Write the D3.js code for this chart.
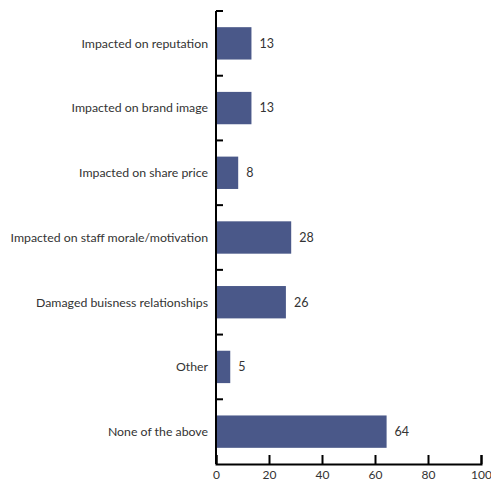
<!DOCTYPE html>
<html><head><meta charset="utf-8">
<script src="https://cdn.jsdelivr.net/npm/d3@7"></script>
<style>body{margin:0;background:#fff}svg{display:block}</style>
</head><body>
<script>
const categories = ["Impacted on reputation","Impacted on brand image","Impacted on share price","Impacted on staff morale/motivation","Damaged buisness relationships","Other","None of the above"];
const values = [13,13,8,28,26,5,64];
const xTicks = [0,20,40,60,80,100];

const W=491,H=482;
const m={top:11,left:216,right:10,bottom:18};
const svg=d3.select("body").append("svg").attr("width",W).attr("height",H);
const font="Lato, 'Open Sans', sans-serif";
const x=d3.scaleLinear().domain([0,100]).range([m.left,481]);
const y=d3.scaleBand().domain(categories).range([m.top,464]).paddingInner(0.5).paddingOuter(0.25);

// bars
svg.selectAll("rect.bar").data(values).join("rect")
  .attr("x",x(0)+1).attr("y",(d,i)=>y(categories[i]))
  .attr("width",d=>x(d)-x(0)).attr("height",y.bandwidth())
  .attr("fill","#4a5889");
// value labels
svg.selectAll("text.val").data(values).join("text")
  .attr("x",d=>x(d)+9).attr("y",(d,i)=>y(categories[i])+y.bandwidth()/2)
  .attr("dy","0.35em").attr("font-family",font).attr("font-size",12.5).attr("fill","#333")
  .text(d=>d);
// category labels
svg.selectAll("text.cat").data(categories).join("text")
  .attr("x",208).attr("y",d=>y(d)+y.bandwidth()/2).attr("dy","0.35em")
  .attr("text-anchor","end").attr("font-family",font).attr("font-size",12.3).attr("fill","#333")
  .text(d=>d);
// y axis line and boundary ticks
const bounds=d3.range(categories.length).map(i=>m.top+i*(464-m.top)/categories.length);
svg.append("line").attr("x1",x(0)).attr("x2",x(0)).attr("y1",m.top).attr("y2",464).attr("stroke","#000").attr("stroke-width",2);
svg.selectAll("line.yt").data(bounds).join("line")
  .attr("x1",x(0)).attr("x2",x(0)+7).attr("y1",d=>d).attr("y2",d=>d).attr("stroke","#000").attr("stroke-width",2);
// x axis
const xa=svg.append("g").attr("transform","translate(0,464)")
  .call(d3.axisBottom(x).tickValues(xTicks).tickSize(-9).tickPadding(6));
xa.select(".domain").attr("stroke","#000").attr("stroke-width",2);
xa.selectAll(".tick line").attr("stroke","#000").attr("stroke-width",2);
xa.selectAll("text").attr("font-family",font).attr("font-size",12).attr("fill","#333");
</script>
</body></html>
